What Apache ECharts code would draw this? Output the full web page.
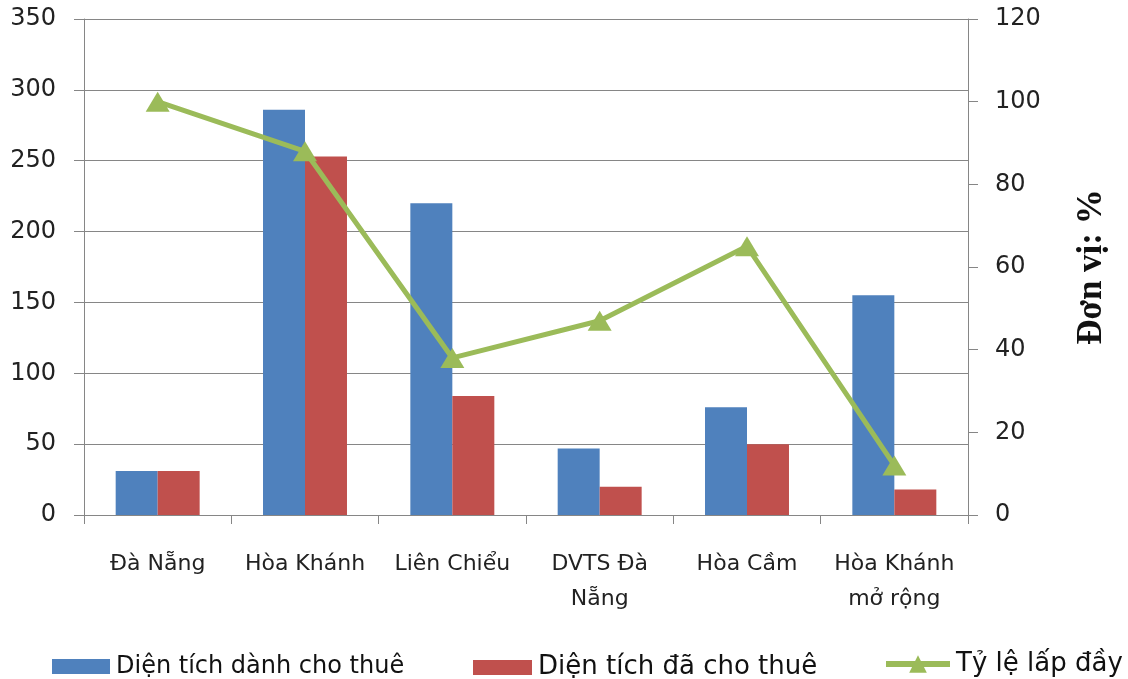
<!DOCTYPE html>
<html>
<head>
<meta charset="utf-8">
<script src="https://cdn.jsdelivr.net/npm/echarts@6/dist/echarts.min.js"></script>
<style>
  html, body { margin: 0; padding: 0; background: #fff; }
  #main { width: 1128px; height: 679px; }
</style>
</head>
<body>
<div id="main"></div>
<script>
  // dữ liệu
  var categories = ['Đà Nẵng', 'Hòa Khánh', 'Liên Chiểu', 'DVTS Đà\nNẵng', 'Hòa Cầm', 'Hòa Khánh\nmở rộng'];
  var dienTichDanhChoThue = [31, 286, 220, 47, 76, 155];
  var dienTichDaChoThue = [31, 253, 84, 20, 50, 18];
  var tyLeLapDay = [100, 88, 38, 47, 65, 12];
  var leftTicks = [0, 350, 50];
  var rightTicks = [0, 120, 20];

  var axisGray = '#868686';
  var font = "'DejaVu Sans', sans-serif";

  function legendItem(name, left, width, height, size, icon) {
    let item = { name: name };
    if (icon) item.icon = icon;
    return {
      left: left,
      top: 662 - height / 2,
      padding: 0,
      itemWidth: width,
      itemHeight: height,
      itemGap: 0,
      textStyle: { fontSize: size, color: '#111', fontFamily: font, padding: [0, 0, 0, 1] },
      lineStyle: { width: 6 },
      data: [item]
    };
  }

  let myChart = echarts.init(document.getElementById('main'));
  myChart.setOption({
    animation: false,
    textStyle: { fontFamily: font },
    grid: { left: 84, right: 160, top: 19, bottom: 164 },
    legend: [
      legendItem('Diện tích dành cho thuê', 52, 58, 15, 24, 'rect'),
      legendItem('Diện tích đã cho thuê', 473, 59, 15, 26, 'rect'),
      legendItem('Tỷ lệ lấp đầy', 883, 64, 22, 26)
    ],
    xAxis: {
      type: 'category',
      data: categories,
      axisLine: { lineStyle: { color: axisGray } },
      axisTick: { show: true, length: 9, lineStyle: { color: axisGray } },
      axisLabel: { color: '#222', fontSize: 22, margin: 32, lineHeight: 35, interval: 0 }
    },
    yAxis: [
      {
        type: 'value',
        min: leftTicks[0], max: leftTicks[1], interval: leftTicks[2],
        axisLine: { show: true, lineStyle: { color: axisGray } },
        axisTick: { show: true, length: 10, lineStyle: { color: axisGray } },
        splitLine: { lineStyle: { color: axisGray } },
        axisLabel: { color: '#222', fontSize: 24, margin: 28 }
      },
      {
        type: 'value',
        min: rightTicks[0], max: rightTicks[1], interval: rightTicks[2],
        position: 'right',
        name: 'Đơn vị: %',
        nameLocation: 'middle',
        nameGap: 106,
        nameRotate: 90,
        nameTextStyle: { fontFamily: "'Liberation Serif', 'DejaVu Serif', serif", fontWeight: 'bold', fontSize: 35, color: '#111' },
        axisLine: { show: true, lineStyle: { color: axisGray } },
        axisTick: { show: true, length: 10, lineStyle: { color: axisGray } },
        splitLine: { show: false },
        axisLabel: { color: '#222', fontSize: 24, margin: 27 }
      }
    ],
    series: [
      {
        name: 'Diện tích dành cho thuê',
        type: 'bar',
        data: dienTichDanhChoThue,
        itemStyle: { color: '#4F81BD' },
        barGap: '0%',
        barCategoryGap: '43%'
      },
      {
        name: 'Diện tích đã cho thuê',
        type: 'bar',
        data: dienTichDaChoThue,
        itemStyle: { color: '#C0504D' }
      },
      {
        name: 'Tỷ lệ lấp đầy',
        type: 'line',
        yAxisIndex: 1,
        data: tyLeLapDay,
        symbol: 'triangle',
        symbolSize: [24, 20],
        lineStyle: { color: '#9BBB59', width: 5 },
        itemStyle: { color: '#9BBB59' }
      }
    ]
  });
</script>
</body>
</html>
